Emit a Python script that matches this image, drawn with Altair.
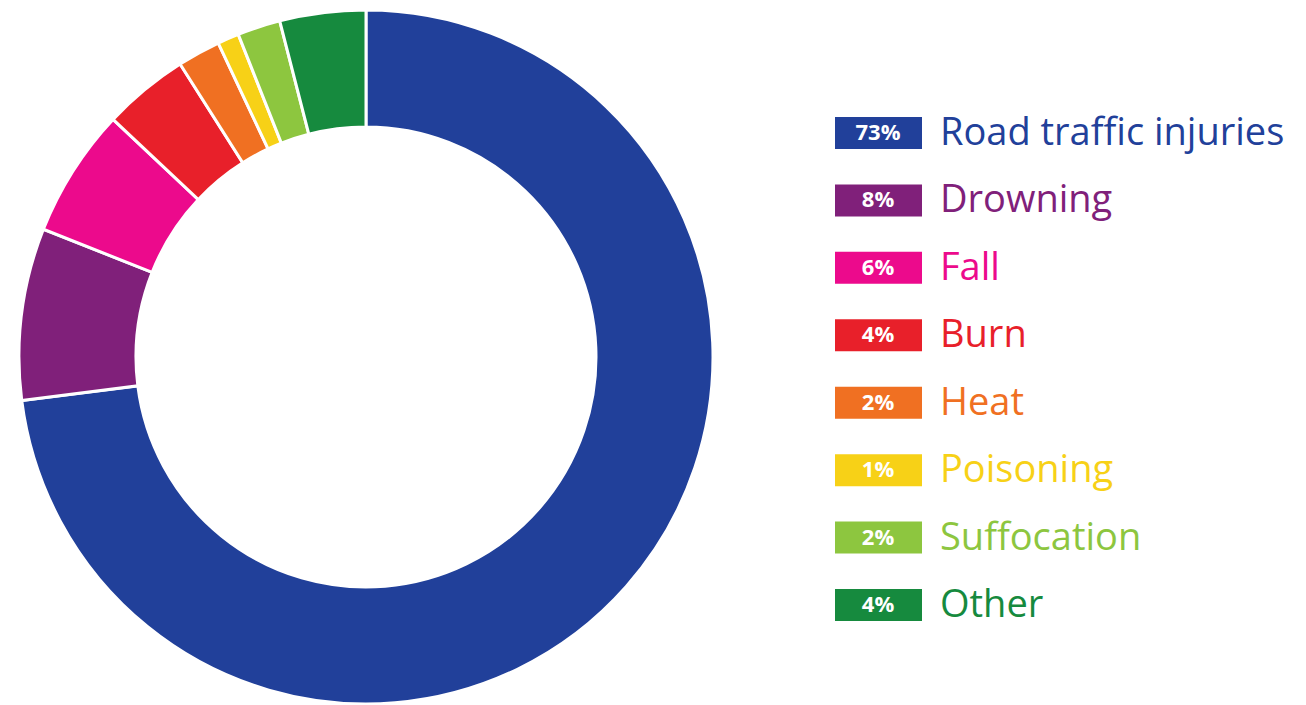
import altair as alt
import pandas as pd

categories = ["Road traffic injuries", "Drowning", "Fall", "Burn", "Heat",
              "Poisoning", "Suffocation", "Other"]
values = [73, 8, 6, 4, 2, 1, 2, 4]
pct_labels = ["73%", "8%", "6%", "4%", "2%", "1%", "2%", "4%"]
colors = ["#21409a", "#80207a", "#ec0a8c", "#e8202a", "#f07022",
          "#f7d117", "#8dc63f", "#168a3e"]

df = pd.DataFrame({
    "cat": categories,
    "value": values,
    "pct": pct_labels,
    "order": list(range(len(categories))),
})

color = alt.Color("cat:N", scale=alt.Scale(domain=categories, range=colors), legend=None)
yenc = alt.Y("cat:N", sort=categories, axis=None,
             scale=alt.Scale(type="point", domain=categories, range=[133, 605],
                             padding=0))

arc = alt.Chart(df).mark_arc(outerRadius=347, innerRadius=230, stroke="white",
                             strokeWidth=3).encode(
    theta=alt.Theta("value:Q", stack=True),
    order=alt.Order("order:Q"),
    color=color,
    x=alt.value(366),
    y=alt.value(357),
)

boxes = alt.Chart(df).mark_bar(size=32).encode(
    y=yenc, x=alt.value(835), x2=alt.value(922), color=color,
)

pct_text = alt.Chart(df).mark_text(font="Open Sans", fontWeight="bold", fontSize=22,
                                   color="white", align="center",
                                   baseline="middle").encode(
    y=yenc, x=alt.value(878), text="pct:N",
)

label_text = alt.Chart(df).mark_text(font="Open Sans", fontSize=38, align="left",
                                     baseline="middle", dy=1).encode(
    y=yenc, x=alt.value(940), text="cat:N", color=color,
)

chart = alt.layer(arc, boxes, pct_text, label_text).properties(
    width=1306, height=705, padding=0, autosize=alt.AutoSizeParams(type="none"),
    background="white",
).configure_view(stroke=None)

chart.save("out.html", embed_options={"renderer": "svg", "actions": False})
